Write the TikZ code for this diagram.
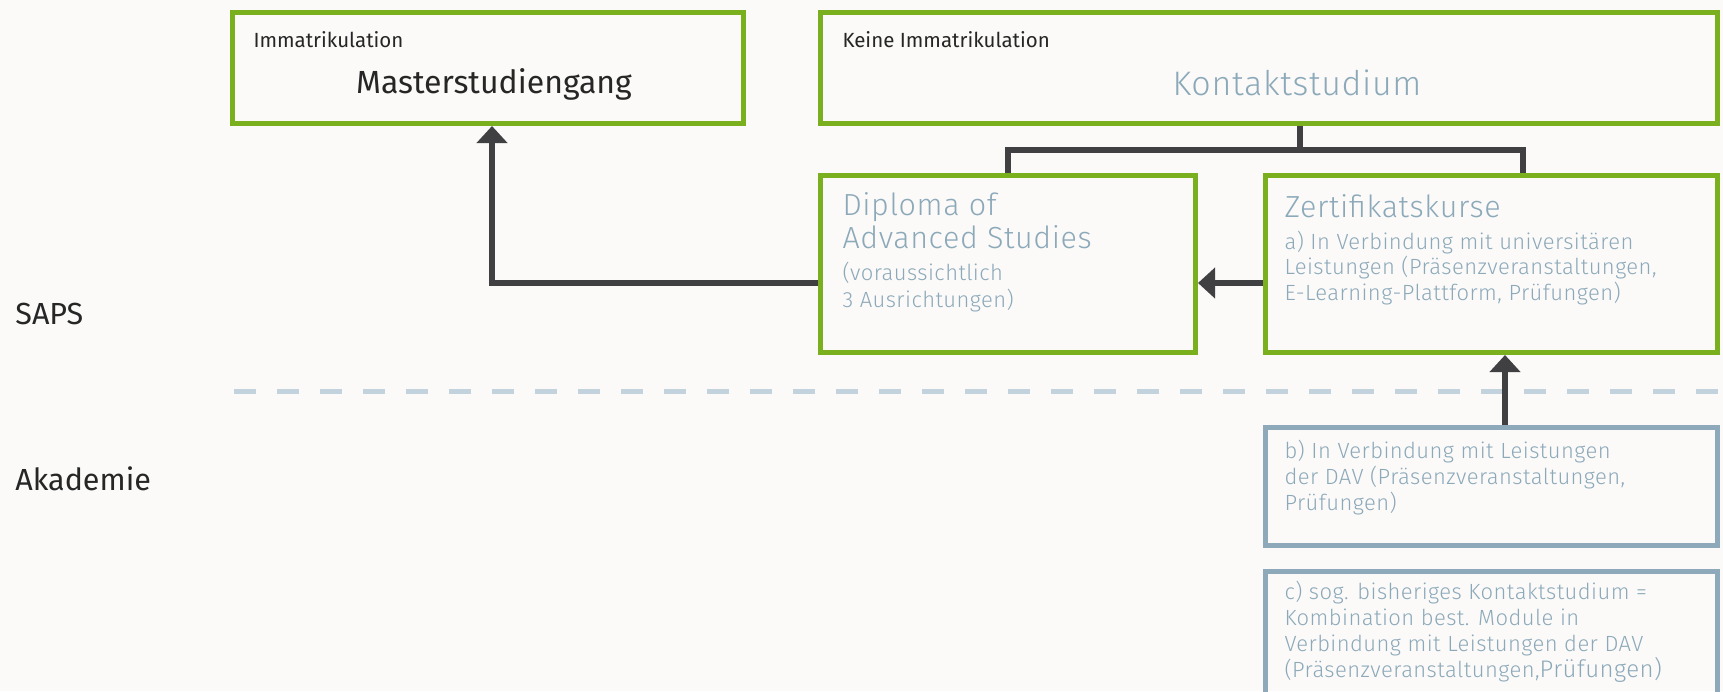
\documentclass[tikz,border=0pt]{standalone}
\usepackage{fontspec}
\setmainfont{Fira Sans Light}[LetterSpace=2]
\newfontfamily\darkfont{Fira Sans}
\usetikzlibrary{arrows.meta,positioning,calc}
\definecolor{boxgreen}{HTML}{7AAF1E}
\definecolor{boxblue}{HTML}{8DA9BA}
\definecolor{textblue}{HTML}{8CA9BA}
\definecolor{linegray}{HTML}{404042}
\definecolor{dashblue}{HTML}{C2D3DD}
\definecolor{paper}{HTML}{FBFAF8}

\begin{document}
\begin{tikzpicture}[x=1pt,y=-1pt,>={Triangle[width=30pt,length=17pt]},
                    line width=5pt]
  \tikzstyle{greenbox}=[rectangle,draw=boxgreen,inner sep=0pt]
  \tikzstyle{bluebox}=[rectangle,draw=boxblue,inner sep=0pt]
  \tikzstyle{link}=[draw=linegray,line width=6pt]
  \tikzstyle{flow}=[link,->]
  \tikzstyle{txt}=[inner sep=0pt,anchor=base west,align=left]
  \tikzstyle{title}=[txt,text=textblue,font=\fontsize{30.5}{33}\selectfont]
  \tikzstyle{body}=[txt,text=textblue,font=\fontsize{22}{26}\selectfont]
  \tikzstyle{tag}=[txt,text=black!85,font=\darkfont\fontsize{20.5}{24}\selectfont]
  \tikzstyle{side}=[txt,text=black!85,font=\darkfont\fontsize{30.5}{34}\selectfont]

  \fill[paper] (0,0) rectangle (1723,691);
  \useasboundingbox (0,0) rectangle (1723,691);
  \clip (0,0) rectangle (1723,691);

  % boxes
  \node[greenbox,minimum width=511pt,minimum height=111pt] (master)  at (488,68) {};
  \node[greenbox,minimum width=897pt,minimum height=111pt] (kontakt) at (1269,68) {};
  \node[greenbox,minimum width=375pt,minimum height=177pt] (diploma) at (1008,264) {};
  \node[greenbox,minimum width=452pt,minimum height=177pt] (zert)    at (1491.5,264) {};
  \node[bluebox,minimum width=452pt,minimum height=118pt]  (dav)     at (1491.5,486.5) {};
  \node[bluebox,minimum width=452pt,minimum height=140pt]  (alt)     at (1491.5,641.5) {};

  % texts (multi-line nodes sit on their last baseline)
  \node[tag] (immat) at (251,47) {Immatrikulation};
  \node[txt,anchor=base,text=black!85,font=\darkfont\fontsize{32}{35}\selectfont] (mastertxt) at (494,93) {Masterstudiengang};
  \node[tag] (keine) at (840,47) {Keine Immatrikulation};
  \node[txt,anchor=base,text=textblue,font=\fontsize{34}{36}\selectfont] (kontakttxt) at (1297,95) {Kontaktstudium};

  \node[title] (diplomatxt) at (840,248) {Diploma of\\Advanced Studies};
  \node[body,font=\fontsize{22}{27}\selectfont] (diplomasub) at (840,307) {(voraussichtlich\\3 Ausrichtungen)};

  \node[title] (zerttxt) at (1282,217) {Zertifikatskurse};
  \node[body,font=\fontsize{22}{25.5}\selectfont] (zertsub) at (1282,300) {a) In Verbindung mit universitären\\Leistungen (Präsenzveranstaltungen,\\E-Learning-Plattform, Prüfungen)};
  \node[body] (davtxt) at (1282,510) {b) In Verbindung mit Leistungen\\der DAV (Präsenzveranstaltungen,\\Prüfungen)};
  \node[body] (alttxt) at (1282,677) {c) sog. bisheriges Kontaktstudium =\\Kombination best. Module in\\Verbindung mit Leistungen der DAV\\(Präsenzveranstaltungen,{\fontsize{24}{26}\selectfont Prüfungen)}};

  \node[side] (saps) at (13,324) {SAPS};
  \node[side] (akad) at (13,490) {Akademie};

  % separator
  \draw[dashblue,dash pattern=on 22pt off 21pt] (234,391) -- (1723,391);

  % connectors
  \coordinate (fork) at (1300,150);
  \draw[link] (kontakt.south -| fork) -- (fork);
  \draw[link] (diploma.north) |- (fork) -| ([xshift=31.5pt]zert.north);
  \draw[flow] ([yshift=-19pt]diploma.west) -| ([xshift=4pt]master.south);
  \draw[flow] ([yshift=-19pt]zert.west) -- ([yshift=-19pt]diploma.east);
  \draw[flow] ([xshift=13.5pt]dav.north) -- ([xshift=13.5pt]zert.south);
\end{tikzpicture}
\end{document}
